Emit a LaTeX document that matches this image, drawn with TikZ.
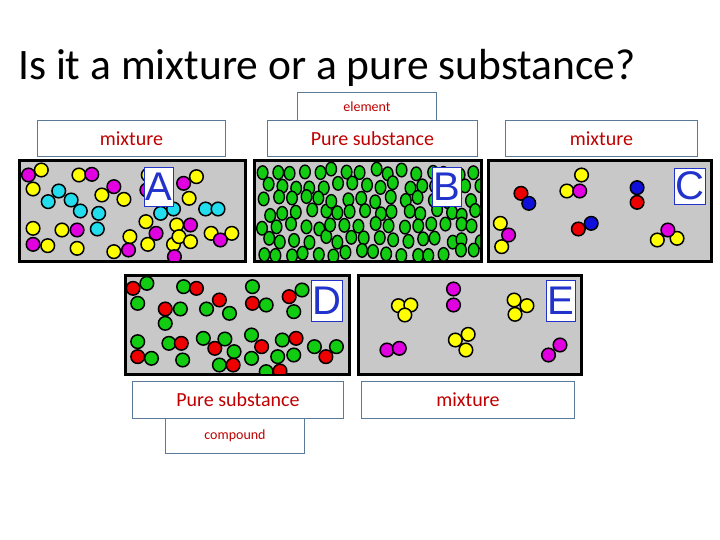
\documentclass[tikz,border=0pt]{standalone}
\usepackage{fontspec}
\setmainfont{Carlito}
\newfontfamily\lettfont{Liberation Sans}
\definecolor{lbl}{HTML}{C00000}
\definecolor{bord}{HTML}{5B7A99}
\definecolor{pan}{HTML}{C8C8C8}
\definecolor{Ym}{HTML}{FFFF00}
\definecolor{Mm}{HTML}{E000E0}
\definecolor{Cm}{HTML}{22DDEE}
\definecolor{Gm}{HTML}{11CC11}
\definecolor{Rm}{HTML}{EE0000}
\definecolor{Bm}{HTML}{1010DD}
\definecolor{Lt}{HTML}{2233CC}
\newcommand\atm[3]{\filldraw[fill=#3,draw=black,line width=1.5pt] ({#1*0.459},{-(85+#2/3)}) circle[radius=6.8pt];}
\tikzset{
 lab/.style={draw=bord,line width=1pt,fill=white,text=lbl,anchor=north west,inner sep=0pt,align=center},
 panel/.style={draw=black,line width=3pt,fill=pan},
 letter/.style={draw=Lt,line width=0.8pt,fill=white,text=Lt,inner sep=1pt,font=\lettfont\fontsize{40}{40}\selectfont}
}
\begin{document}
\begin{tikzpicture}[x=1pt,y=1pt]
\useasboundingbox[fill=white] (0,0) rectangle (720,-540);
\node[anchor=base west,inner sep=0pt,font=\fontsize{43.5}{43.5}\selectfont] (title) at (18,-80) {Is it a mixture or a pure substance?};
% panels
\draw[panel] (19,-161) rectangle (245,-261);
\draw[panel] (254,-161) rectangle (481,-261);
\draw[panel] (488,-161) rectangle (711,-261);
\draw[panel] (125,-275) rectangle (349,-374);
\draw[panel] (358,-275) rectangle (581,-374);
% A
\begin{scope}
\clip (20,-162) rectangle (244,-260);
\foreach \x/\y/\c in {62/270/Mm,90/255/Ym,72/312/Ym,128/318/Cm,105/350/Cm,172/270/Ym,200/268/Mm,248/305/Mm,222/330/Ym,270/343/Ym,155/345/Cm,175/378/Cm,320/315/Mm,323/270/Ym,350/322/Ym,400/295/Mm,428/275/Ym,412/340/Ym,215/385/Cm,212/432/Cm,350/385/Cm,378/372/Cm,72/430/Ym,72/478/Mm,104/482/Ym,135/435/Ym,168/435/Mm,168/490/Ym,318/410/Ym,340/445/Mm,385/420/Ym,322/478/Ym,378/478/Ym,415/420/Mm,390/455/Ym,415/470/Ym,460/445/Ym,505/445/Ym,480/465/Mm,248/500/Ym,283/455/Ym,280/495/Mm,448/372/Cm,475/372/Cm,380/515/Mm}{\atm{\x}{\y}{\c}}
\end{scope}
% B
\begin{scope}
\clip (255,-162) rectangle (480,-260);
\pgfmathsetseed{7}
\foreach \i in {0,...,15}{\foreach \j in {0,...,6}{
 \pgfmathsetmacro\xx{263+\i*14+rand*3+mod(\j,2)*5}
 \pgfmathsetmacro\yy{-(172+\j*13.5+rand*3)}
 \filldraw[fill=Gm,draw=black,line width=1.4pt] (\xx,\yy) ellipse[x radius=5.3pt,y radius=6.8pt];}}
\end{scope}
% C
\foreach \x/\y/\c in {1135/325/Rm,1152/355/Bm,1267/270/Ym,1235/318/Ym,1263/318/Mm,1388/308/Bm,1388/352/Rm,1260/432/Rm,1288/415/Bm,1090/415/Ym,1093/485/Ym,1108/450/Mm,1432/465/Ym,1475/460/Ym,1455/435/Mm}{\atm{\x}{\y}{\c}}
% D
\begin{scope}
\clip (126,-276) rectangle (348,-373);
\foreach \x/\y/\c in {320/595/Gm,300/655/Gm,290/610/Rm,400/605/Gm,428/610/Rm,393/672/Gm,360/715/Gm,360/672/Rm,450/672/Gm,500/685/Gm,478/645/Rm,550/605/Gm,580/660/Gm,550/655/Rm,658/615/Gm,640/680/Gm,630/635/Rm,300/770/Gm,330/820/Gm,300/815/Rm,368/775/Gm,398/825/Gm,395/775/Rm,443/760/Gm,490/762/Gm,510/800/Gm,478/840/Gm,468/790/Rm,508/840/Rm,548/750/Gm,548/820/Gm,570/785/Rm,615/765/Gm,640/810/Gm,605/815/Gm,645/760/Rm,685/785/Gm,733/785/Gm,710/815/Rm,580/860/Gm,610/858/Rm}{\atm{\x}{\y}{\c}}
\end{scope}
% E
\foreach \x/\y/\c in {868/662/Ym,895/660/Ym,882/690/Ym,988/612/Mm,988/660/Mm,1120/645/Ym,1148/662/Ym,1122/688/Ym,843/795/Mm,870/790/Mm,992/765/Ym,1020/748/Ym,1015/795/Ym,1195/810/Mm,1220/780/Mm}{\atm{\x}{\y}{\c}}
% letters
\node[letter,minimum width=23pt,minimum height=39pt] (lA) at (159,-187) {A};
\node[letter,minimum width=23pt,minimum height=39pt] (lB) at (447,-187) {B};
\node[letter,minimum width=23pt,minimum height=36pt] (lC) at (690,-186) {C};
\node[letter,minimum width=23pt,minimum height=41pt] (lD) at (327,-301) {D};
\node[letter,minimum width=23pt,minimum height=41pt] (lE) at (561,-301) {E};
% labels
\node[lab,minimum width=139pt,minimum height=28pt,font=\fontsize{14}{14}\selectfont] (el) at (297,-92) {element};
\node[lab,minimum width=188pt,minimum height=36pt,font=\fontsize{20}{20}\selectfont] (m1) at (37,-120) {mixture};
\node[lab,minimum width=210pt,minimum height=36pt,font=\fontsize{20}{20}\selectfont] (ps1) at (267,-120) {Pure substance};
\node[lab,minimum width=192pt,minimum height=36pt,font=\fontsize{20}{20}\selectfont] (m2) at (505,-120) {mixture};
\node[lab,minimum width=139pt,minimum height=35pt,font=\fontsize{14}{14}\selectfont] (co) at (165,-418) {compound};
\node[lab,minimum width=211pt,minimum height=37pt,font=\fontsize{20}{20}\selectfont] (ps2) at (132,-381) {Pure substance};
\node[lab,minimum width=213pt,minimum height=37pt,font=\fontsize{20}{20}\selectfont] (m3) at (361,-381) {mixture};
\end{tikzpicture}
\end{document}
